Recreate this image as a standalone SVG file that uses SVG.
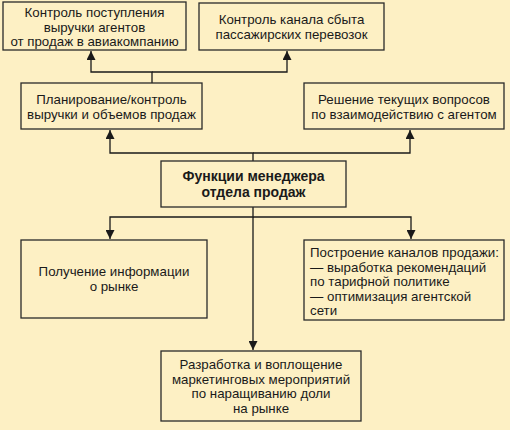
<svg xmlns="http://www.w3.org/2000/svg" width="510" height="430" viewBox="0 0 510 430">
<style>
.b{fill:#fdf0c4;stroke:#2a2a2a;stroke-width:1.3}
.t{font-family:"Liberation Sans",Arial,sans-serif;font-size:13.3px;fill:#1a1a1a;text-anchor:middle}
.l{text-anchor:start}
.bold{font-weight:bold;font-size:14px}
.c{fill:none;stroke:#1a1a1a;stroke-width:1.3}
</style>
<defs>
<marker id="a" viewBox="0 0 10 10" refX="10" refY="5" markerWidth="10" markerHeight="9" markerUnits="userSpaceOnUse" orient="auto"><path d="M0,0L10,5L0,10z" fill="#1a1a1a"/></marker>
</defs>
<rect width="510" height="430" fill="#fdf0c4"/>
<g id="connectors">
<path class="c" d="M253,161V153H110V130" marker-end="url(#a)"/>
<path class="c" d="M253,153H410V130" marker-end="url(#a)"/>
<path class="c" d="M152,83V72H91V51" marker-end="url(#a)"/>
<path class="c" d="M152,72H287V51" marker-end="url(#a)"/>
<path class="c" d="M253,207V217H110V239" marker-end="url(#a)"/>
<path class="c" d="M253,217H411V239" marker-end="url(#a)"/>
<path class="c" d="M253,217V350" marker-end="url(#a)"/>
</g>
<g id="n1"><rect class="b" x="3" y="2" width="183" height="48"/>
<text class="t" x="94.5" y="17">Контроль поступления</text>
<text class="t" x="94.5" y="31.5">выручки агентов</text>
<text class="t" x="94.5" y="46">от продаж в авиакомпанию</text></g>
<g id="n2"><rect class="b" x="199" y="3" width="185" height="47"/>
<text class="t" x="291.5" y="24">Контроль канала сбыта</text>
<text class="t" x="291.5" y="38.5">пассажирских перевозок</text></g>
<g id="n3"><rect class="b" x="21" y="83" width="181" height="46"/>
<text class="t" x="111.5" y="104">Планирование/контроль</text>
<text class="t" x="111.5" y="118.5">выручки и объемов продаж</text></g>
<g id="n4"><rect class="b" x="304" y="83" width="200" height="46"/>
<text class="t" x="404" y="104">Решение текущих вопросов</text>
<text class="t" x="404" y="118.5">по взаимодействию с агентом</text></g>
<g id="n5"><rect class="b" x="161" y="161" width="185" height="46"/>
<text class="t bold" x="253.5" y="181">Функции менеджера</text>
<text class="t bold" x="253.5" y="197">отдела продаж</text></g>
<g id="n6"><rect class="b" x="21" y="240" width="186" height="78"/>
<text class="t" x="114" y="276">Получение информации</text>
<text class="t" x="114" y="291">о рынке</text></g>
<g id="n7"><rect class="b" x="304" y="240" width="200" height="80"/>
<text class="t l" x="310" y="257">Построение каналов продажи:</text>
<text class="t l" x="310" y="271.5">— выработка рекомендаций</text>
<text class="t l" x="310" y="286">по тарифной политике</text>
<text class="t l" x="310" y="300.5">— оптимизация агентской</text>
<text class="t l" x="310" y="315">сети</text></g>
<g id="n8"><rect class="b" x="161" y="351" width="200" height="70"/>
<text class="t" x="261" y="369">Разработка и воплощение</text>
<text class="t" x="261" y="383.5">маркетинговых мероприятий</text>
<text class="t" x="261" y="398">по наращиванию доли</text>
<text class="t" x="261" y="412.5">на рынке</text></g>
</svg>
